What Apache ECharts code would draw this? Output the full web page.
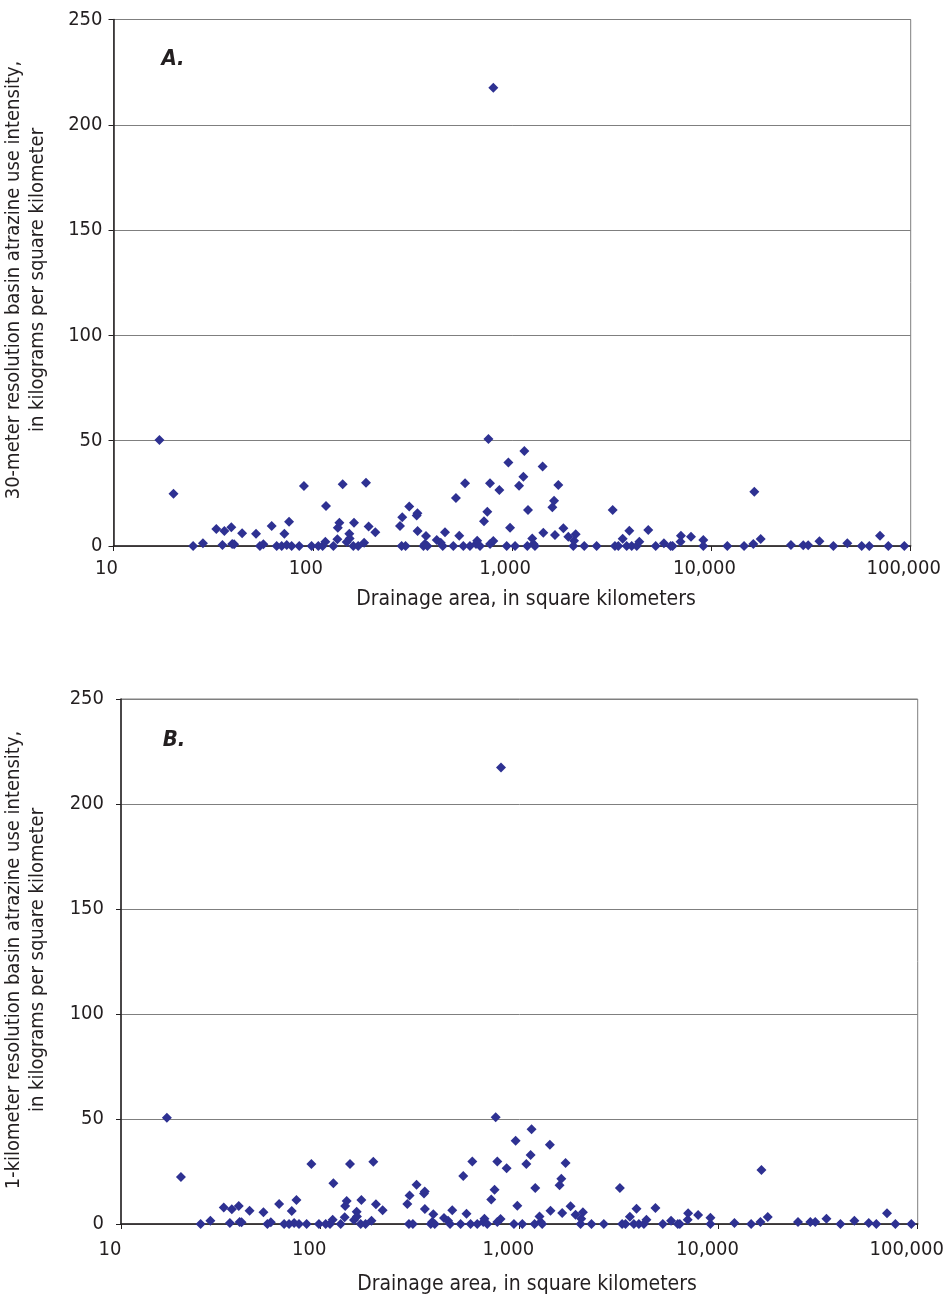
<!DOCTYPE html>
<html>
<head>
<meta charset="utf-8">
<script src="https://cdn.jsdelivr.net/npm/echarts@6/dist/echarts.min.js"></script>
<style>
html,body{margin:0;padding:0;background:#fff;}
#chart{width:950px;height:1300px;}
</style>
</head>
<body>
<div id="chart"></div>
<script>
// ---- Data ----
const areaA = [17, 20, 25.1, 28.1, 32.8, 35.2, 36.0, 39.0, 39.4, 40.3, 44.2, 51.9, 54.3, 56.5, 62.2, 65.9, 69.8, 72.0, 74, 76.0,
  78.3, 85.5, 90.3, 98.6, 106.6, 112, 115.6, 116.5, 126.8, 132.8, 133.5, 135.9, 141.2, 147.9, 152.5, 153, 159.7, 161, 169, 181,
  184.9, 190.6, 205.9,
  273.8, 279, 281, 292, 304.8, 332, 335, 335.6, 359, 365, 369.8, 376, 418.6, 438.5, 448.8, 460.5, 507, 522.7, 543, 569,
  580.7, 614.6, 659, 668, 690, 722.6, 751, 760.6, 774.9, 775, 805, 805, 863, 939.6, 957.6, 977, 1035, 1084, 1139, 1152,
  1192, 1202, 1262, 1280, 1302, 1423, 1434, 1592, 1624, 1641, 1706, 1808, 1915, 2029, 2046, 2085, 2302, 2655, 3196, 3281,
  3412, 3588, 3758, 3874, 3982, 4220, 4347, 4822,
  5253, 5777, 6247, 6391, 7035, 7000, 7900, 9107, 9107, 12020, 14580, 16230, 16420, 17670, 25060, 28900, 30600, 34830, 40930, 48090,
  56770, 61970, 70130, 77230, 92870];
const intensityA = [50.3, 24.8, 0, 1.3, 8.1, 0.5, 7.1, 8.9, 1, 0.8, 6, 5.8, 0, 0.8, 9.5, 0, 0, 5.8, 0.5, 11.5,
  0, 0, 28.5, 0, 0, 0, 2, 19, 0, 3.2, 8.7, 11, 29.3, 1.9, 5.8, 3.6, 0, 11, 0, 1.5,
  30, 9.2, 6.5,
  9.5, 0, 13.6, 0, 18.7, 14.5, 15.5, 7.1, 0, 1, 4.7, 0, 2.8, 1.5, 0, 6.5, 0, 22.8, 4.9, 0,
  29.8, 0, 1, 2.5, 0, 11.7, 16.3, 50.8, 29.8, 1, 2.4, 217.6, 26.6, 0, 39.7, 8.7, 0, 28.6, 32.9, 45.1,
  0, 17.1, 3.6, 1, 0, 37.7, 6.3, 18.4, 21.5, 5.2, 29, 8.4, 4.4, 0, 2.5, 5.6, 0, 0, 17.1, 0,
  0, 3.5, 0, 7.3, 0, 0, 2, 7.6,
  0, 1.3, 0, 0, 4.9, 2, 4.4, 2.8, 0, 0, 0, 1, 25.8, 3.3, 0.5, 0.3, 0.3, 2.2, 0, 1.3,
  0, 0, 4.9, 0, 0];

const areaB = [17, 20, 25.1, 28.1, 32.8, 35.2, 36.0, 39.0, 39.4, 40.3, 44.2, 51.9, 54.3, 56.5, 62.2, 65.9, 69.8, 72.0, 74, 76.0,
  78.3, 85.5, 90.3, 98.6, 106.6, 112, 115.6, 116.5, 126.8, 132.8, 133.5, 135.9, 141.2, 147.9, 152.5, 153, 159.7, 161, 169, 181,
  184.9, 190.6, 205.9,
  273.8, 279, 281, 292, 304.8, 332, 335, 335.6, 359, 365, 369.8, 376, 418.6, 438.5, 448.8, 460.5, 507, 522.7, 543, 569,
  580.7, 614.6, 659, 668, 690, 722.6, 751, 760.6, 774.9, 775, 805, 809, 863, 939.6, 957.6, 977, 1035, 1084, 1139, 1152,
  1192, 1202, 1262, 1280, 1302, 1423, 1434, 1592, 1624, 1641, 1706, 1808, 1915, 2029, 2046, 2085, 2302, 2655, 3196, 3281,
  3412, 3588, 3758, 3874, 3982, 4220, 4347, 4822,
  5253, 5777, 6247, 6391, 7035, 7000, 7900, 9107, 9107, 12020, 14580, 16230, 16420, 17670, 25060, 28900, 30600, 34830, 40930, 48090,
  56770, 61970, 70130, 77230, 92870];
const intensityB = [50.6, 22.4, 0, 1.6, 7.8, 0.5, 7, 8.6, 1, 0.8, 6.3, 5.6, 0, 0.8, 9.5, 0, 0, 6.2, 0.5, 11.4,
  0, 0, 28.6, 0, 0, 0, 2, 19.4, 0, 3.2, 8.6, 11, 28.6, 1.9, 5.8, 3.6, 0, 11.4, 0, 1.5,
  29.7, 9.4, 6.5,
  9.5, 0, 13.6, 0, 18.7, 14.5, 15.5, 7.1, 0, 1, 4.7, 0, 2.8, 1.5, 0, 6.5, 0, 22.8, 4.9, 0,
  29.8, 0, 1, 2.5, 0, 11.7, 16.3, 50.8, 29.8, 1, 2.4, 217.4, 26.6, 0, 39.7, 8.7, 0, 28.6, 32.9, 45.1,
  0, 17.1, 3.6, 1, 0, 37.7, 6.3, 18.4, 21.5, 5.2, 29, 8.4, 4.4, 0, 2.5, 5.6, 0, 0, 17.1, 0,
  0, 3.5, 0, 7.3, 0, 0, 2, 7.6,
  0, 1.5, 0, 0, 5.1, 2, 4.3, 3, 0, 0.5, 0, 1, 25.7, 3.3, 1, 1, 1, 2.5, 0, 1.6,
  0.5, 0, 5.1, 0, 0];

const yTicks = [0, 50, 100, 150, 200, 250];
const xTicks = [10, 100, 1000, 10000, 100000];
const xTitle = 'Drainage area, in square kilometers';
const yTitleA = ['30-meter resolution basin atrazine use intensity,', 'in kilograms per square kilometer'];
const yTitleB = ['1-kilometer resolution basin atrazine use intensity,', 'in kilograms per square kilometer'];
const panelLabels = ['A.', 'B.'];

// ---- Styling ----
const FONT = "'Liberation Sans Narrow', 'DejaVu Sans Condensed', 'Roboto Condensed', sans-serif";
const TXT = '#231f20';
const GRIDC = '#7f7f7f';
const MARK = '#2E3192';

function fmt(v) {
  return String(Math.round(v)).replace(/\B(?=(\d{3})+(?!\d))/g, ',');
}
function zip(xs, ys) { return xs.map((x, i) => [x, ys[i]]); }

const grids = [
  {left: 113.5, top: 19.5, width: 797.2, height: 526.5},
  {left: 121, top: 699, width: 796.7, height: 525}
];
const labelMargins = [13, 16];
const labelShift = [14, 22];

const option = {
  animation: false,
  backgroundColor: '#ffffff',
  grid: grids.map(g => Object.assign({show: true, borderColor: GRIDC, borderWidth: 1, backgroundColor: 'transparent'}, g)),
  xAxis: grids.map((g, i) => ({
    type: 'log', logBase: 10, gridIndex: i,
    min: xTicks[0], max: xTicks[xTicks.length - 1],
    axisLine: {show: true, lineStyle: {color: TXT, width: 1.5}},
    axisTick: {show: true, length: 5, lineStyle: {color: TXT, width: 1}},
    minorTick: {show: false},
    splitLine: {show: false},
    axisLabel: {fontSize: 20, color: TXT, fontFamily: FONT, margin: labelMargins[i], padding: [0, labelShift[i], 0, 0],
      formatter: fmt}
  })),
  yAxis: grids.map((g, i) => ({
    type: 'value', gridIndex: i,
    min: yTicks[0], max: yTicks[yTicks.length - 1], interval: yTicks[1] - yTicks[0],
    axisLine: {show: true, lineStyle: {color: TXT, width: 1.5}},
    axisTick: {show: true, length: 5, lineStyle: {color: TXT, width: 1}},
    splitLine: {show: true, lineStyle: {color: GRIDC, width: 1}},
    axisLabel: {fontSize: 20, color: TXT, fontFamily: FONT, margin: i === 0 ? 11 : 17}
  })),
  series: [
    {type: 'scatter', xAxisIndex: 0, yAxisIndex: 0, symbol: 'diamond', symbolSize: 10,
      itemStyle: {color: MARK, opacity: 1}, data: zip(areaA, intensityA)},
    {type: 'scatter', xAxisIndex: 1, yAxisIndex: 1, symbol: 'diamond', symbolSize: 10,
      itemStyle: {color: MARK, opacity: 1}, data: zip(areaB, intensityB)}
  ],
  graphic: [
    {type: 'text', x: 173, y: 59, style: {text: panelLabels[0], font: "italic bold 22px " + FONT, fill: TXT, align: 'center', verticalAlign: 'middle'}},
    {type: 'text', x: 174, y: 740, style: {text: panelLabels[1], font: "italic bold 22px " + FONT, fill: TXT, align: 'center', verticalAlign: 'middle'}},
    {type: 'text', x: 14, y: 280, rotation: Math.PI / 2, style: {text: yTitleA[0], font: "20px " + FONT, fill: TXT, align: 'center', verticalAlign: 'middle'}},
    {type: 'text', x: 38, y: 280, rotation: Math.PI / 2, style: {text: yTitleA[1], font: "20px " + FONT, fill: TXT, align: 'center', verticalAlign: 'middle'}},
    {type: 'text', x: 14, y: 960, rotation: Math.PI / 2, style: {text: yTitleB[0], font: "20px " + FONT, fill: TXT, align: 'center', verticalAlign: 'middle'}},
    {type: 'text', x: 38, y: 960, rotation: Math.PI / 2, style: {text: yTitleB[1], font: "20px " + FONT, fill: TXT, align: 'center', verticalAlign: 'middle'}},
    {type: 'text', x: 526, y: 600, style: {text: xTitle, font: "21px " + FONT, fill: TXT, align: 'center', verticalAlign: 'middle'}},
    {type: 'text', x: 527, y: 1285, style: {text: xTitle, font: "21px " + FONT, fill: TXT, align: 'center', verticalAlign: 'middle'}}
  ]
};

const chart = echarts.init(document.getElementById('chart'), null, {renderer: 'canvas'});
chart.setOption(option);
</script>
</body>
</html>
